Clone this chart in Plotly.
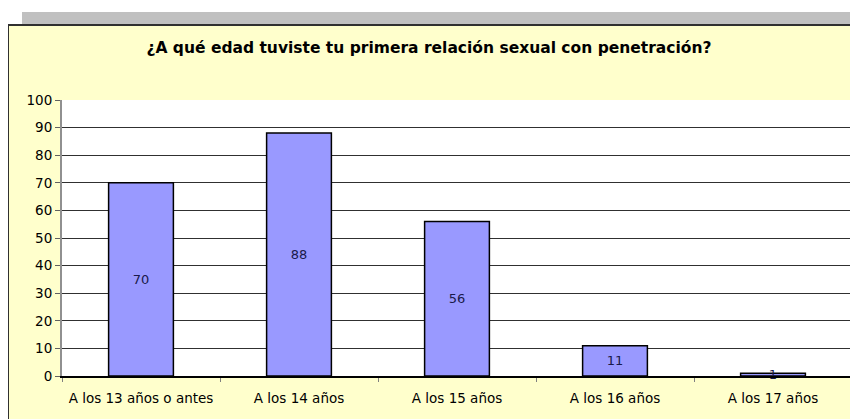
import plotly.graph_objects as go

categories = ["A los 13 años o antes", "A los 14 años", "A los 15 años", "A los 16 años", "A los 17 años"]
values = [70, 88, 56, 11, 1]
title_text = "¿A qué edad tuviste tu primera relación sexual con penetración?"
y_ticks = [0, 10, 20, 30, 40, 50, 60, 70, 80, 90, 100]

# page has an 8px body margin; figure is placed at (8, 8)
OFF = 8
W, H = 858 - OFF, 419 - OFF
L, R, T, B = 62 - OFF, 6, 100 - OFF, 43
pw, ph = W - L - R, H - T - B

def px(x_page):
    return (x_page - OFF - L) / pw

def py(y_page):
    return (H - B - (y_page - OFF)) / ph

FONT = "DejaVu Sans, Verdana, sans-serif"

fig = go.Figure()
fig.add_trace(go.Bar(
    x=categories, y=values,
    marker=dict(color="#9999FF", line=dict(color="black", width=1.5)),
    text=[str(v) for v in values],
    textposition="inside", insidetextanchor="middle", constraintext="none",
    textangle=0, cliponaxis=False,
    textfont=dict(family=FONT, size=13, color="#1a1a4a"),
    width=0.41,
))

shapes = [
    dict(type="rect", xref="paper", yref="paper", x0=px(22), x1=px(870), y0=py(24), y1=py(12),
         fillcolor="#C0C0C0", line=dict(width=0), layer="below"),
    dict(type="rect", xref="paper", yref="paper", x0=px(8), x1=px(880), y0=py(440), y1=py(25),
         fillcolor="#FFFFCC", line=dict(color="#303030", width=2), layer="below"),
    dict(type="rect", xref="paper", yref="paper", x0=0, x1=1, y0=0, y1=1,
         fillcolor="white", line=dict(width=0), layer="below"),
]

fig.update_layout(
    width=W, height=H,
    margin=dict(l=L, r=R, t=T, b=B),
    paper_bgcolor="white", plot_bgcolor="rgba(0,0,0,0)",
    showlegend=False,
    shapes=shapes,
    title=dict(text="<b>" + title_text + "</b>", x=(429 - OFF) / W, xref="container", xanchor="center",
               y=1 - (48 - OFF) / H, yref="container", yanchor="middle",
               font=dict(family=FONT, size=15.5, color="black")),
    font=dict(family=FONT, size=14, color="black"),
)
fig.update_yaxes(range=[0, 100], tickvals=y_ticks, showgrid=True, gridcolor="#303030", gridwidth=1,
                 showline=True, linecolor="#909090", linewidth=2, ticks="outside", ticklen=5,
                 tickcolor="#606060", tickfont=dict(size=13.5), zeroline=False, layer="below traces")
fig.update_xaxes(showline=True, linecolor="black", linewidth=1.5, ticks="outside", ticklen=4,
                 tickcolor="#808080", tickson="boundaries", tickfont=dict(size=13.5), showgrid=False,
                 ticklabelstandoff=9)

fig.write_html("out.html")
